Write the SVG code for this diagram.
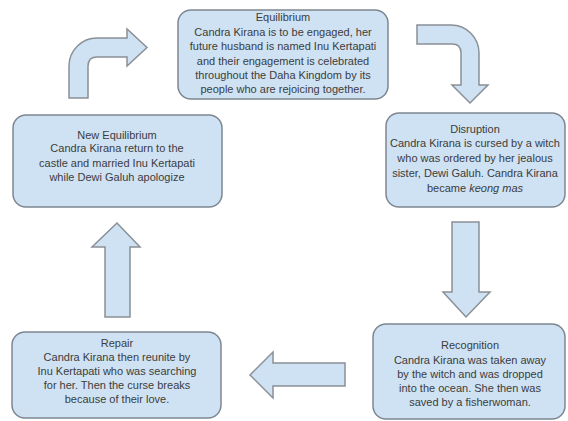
<svg xmlns="http://www.w3.org/2000/svg" width="568" height="421" viewBox="0 0 568 421">
<style>
.box{fill:#cfe2f3;stroke:#7d8791;stroke-width:1.5}
.arr{fill:#cfe2f3;stroke:#8a9096;stroke-width:1.5;stroke-linejoin:miter}
text{font-family:"Liberation Sans",Arial,sans-serif;font-size:11px;fill:#3c3c3c;text-anchor:middle}
</style>
<rect width="568" height="421" fill="#ffffff"/>
<g id="connectors">
<path class="arr" d="M69,98 L69,66 A28,28 0 0 1 97,38 L127,38 L127,29 L147,47.5 L127,66 L127,57 L97,57 Q88,57 88,66 L88,98 Z"/>
<path class="arr" d="M417,25 L451,25 A28,28 0 0 1 479,53 L479,85 L488,85 L470,103 L452,85 L461,85 L461,53 Q461,44 452,44 L417,44 Z"/>
<path class="arr" d="M452,222 L479,222 L479,292 L490,292 L466,317 L443,292 L452,292 Z"/>
<path class="arr" d="M345,363 L345,386 L273,386 L273,398 L250,375 L273,352 L273,363 Z"/>
<path class="arr" d="M105,317 L130,317 L130,247 L140,247 L117,223 L92,247 L105,247 Z"/>
</g>
<g id="equilibrium">
<rect class="box" x="178" y="10" width="210" height="89" rx="13"/>
<text x="283" y="21">Equilibrium</text>
<text x="283" y="36">Candra Kirana is to be engaged, her</text>
<text x="283" y="50">future husband is named Inu Kertapati</text>
<text x="283" y="65">and their engagement is celebrated</text>
<text x="283" y="79">throughout the Daha Kingdom by its</text>
<text x="283" y="93">people who are rejoicing together.</text>
</g>
<g id="disruption">
<rect class="box" x="386" y="113" width="179" height="94" rx="13"/>
<text x="475" y="133">Disruption</text>
<text x="475" y="147">Candra Kirana is cursed by a witch</text>
<text x="475" y="162">who was ordered by her jealous</text>
<text x="475" y="177">sister, Dewi Galuh. Candra Kirana</text>
<text x="475" y="192">became <tspan font-style="italic">keong mas</tspan></text>
</g>
<g id="recognition">
<rect class="box" x="373" y="324" width="192" height="95" rx="13"/>
<text x="470" y="349">Recognition</text>
<text x="470" y="364">Candra Kirana was taken away</text>
<text x="470" y="378">by the witch and was dropped</text>
<text x="470" y="392">into the ocean. She then was</text>
<text x="470" y="406">saved by a fisherwoman.</text>
</g>
<g id="repair">
<rect class="box" x="12" y="332" width="209" height="86" rx="13"/>
<text x="117" y="347">Repair</text>
<text x="117" y="361">Candra Kirana then reunite by</text>
<text x="117" y="375">Inu Kertapati who was searching</text>
<text x="117" y="389">for her. Then the curse breaks</text>
<text x="117" y="403">because of their love.</text>
</g>
<g id="new-equilibrium">
<rect class="box" x="13" y="115" width="209" height="92" rx="13"/>
<text x="117" y="139">New Equilibrium</text>
<text x="117" y="152">Candra Kirana return to the</text>
<text x="117" y="167">castle and married Inu Kertapati</text>
<text x="117" y="181">while Dewi Galuh apologize</text>
</g>
</svg>
